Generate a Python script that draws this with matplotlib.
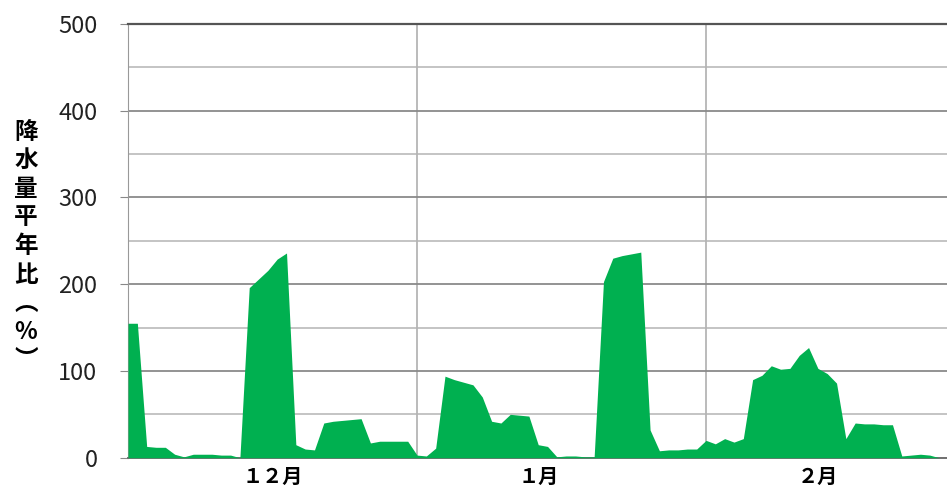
import numpy as np
import matplotlib.pyplot as plt
from matplotlib.ticker import MultipleLocator

plt.rcParams['font.family'] = ['Noto Sans CJK JP', 'DejaVu Sans']

# daily precipitation, ratio to normal (%), starting 1 Dec
ratio = [155, 155, 13, 12, 12, 4, 1, 4, 4, 4, 3, 3, 0,
         196, 206, 216, 229, 236, 15, 10, 9, 40, 42, 43, 44, 45,
         17, 19, 19, 19, 19, 3, 2, 11, 94, 90, 87, 84, 70, 42,
         40, 50, 49, 48, 15, 13, 1, 2, 2, 1, 1, 203, 230, 233,
         235, 237, 32, 8, 9, 9, 10, 10, 20, 16, 22, 18, 22, 90,
         95, 106, 102, 103, 118, 127, 103, 97, 86, 22, 40, 39,
         39, 38, 38, 2, 3, 4, 3, 0, 0]
month_starts = [31, 62]
month_labels = ['１２月', '１月', '２月']
month_label_days = [15.5, 44, 74]
ylabel = '降水量平年比︵%︶'

days = np.arange(len(ratio))

fig = plt.figure(figsize=(9.47, 4.90), dpi=100)
ax = fig.add_axes([0.1352, 0.0659, 0.8648, 0.8851])

ax.fill_between(days, ratio, color='#00B050', lw=0, zorder=3)

ax.set_xlim(0, 87.85)
ax.set_ylim(0, 500)
ax.yaxis.set_major_locator(MultipleLocator(100))
ax.yaxis.set_minor_locator(MultipleLocator(50))
ax.grid(axis='y', which='major', color='#8a8a8a', lw=1.3, zorder=1)
ax.grid(axis='y', which='minor', color='#b4b4b4', lw=1.1, zorder=1)
for m in month_starts:
    ax.axvline(m, color='#a8a8a8', lw=1.1, zorder=1)

ax.spines['right'].set_visible(False)
ax.spines['top'].set_color('#555555')
ax.spines['top'].set_linewidth(1.6)
ax.spines['left'].set_color('#999999')
ax.spines['bottom'].set_color('#707070')
ax.spines['bottom'].set_linewidth(1.4)

ax.tick_params(axis='y', which='major', length=6, color='#888888',
               pad=16, labelsize=17, labelcolor='#222222')
ax.tick_params(axis='y', which='minor', length=0)
ax.set_xticks(month_label_days)
ax.set_xticklabels(month_labels, fontsize=14.5, fontweight='bold')
ax.tick_params(axis='x', length=0, pad=6)

fig.text(26 / 947, 1 - 246 / 490, '\n'.join(ylabel), ha='center', va='center',
         fontsize=17, fontweight='bold', linespacing=1.24)

fig.savefig('out.png', dpi=100)
